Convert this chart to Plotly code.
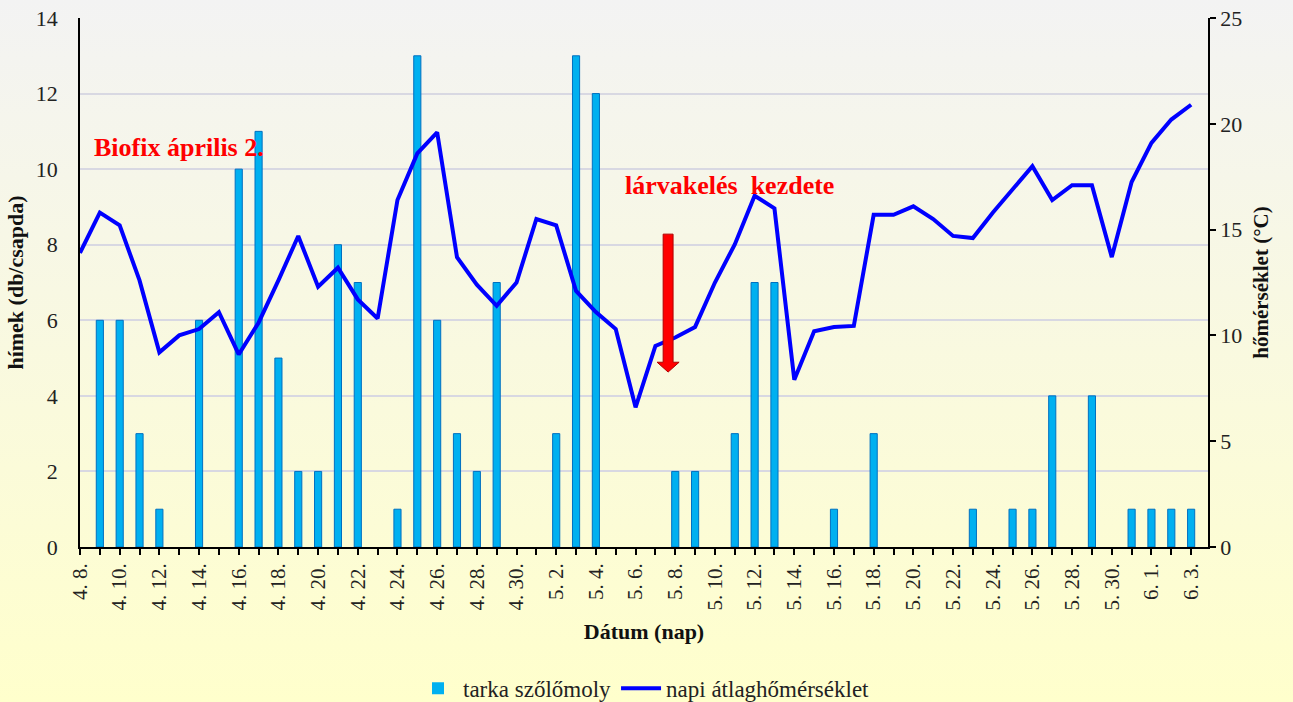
import plotly.graph_objects as go
import urllib.parse

# ---- data ----
dates = ["4. 8.", "4. 9.", "4. 10.", "4. 11.", "4. 12.", "4. 13.", "4. 14.", "4. 15.", "4. 16.", "4. 17.",
         "4. 18.", "4. 19.", "4. 20.", "4. 21.", "4. 22.", "4. 23.", "4. 24.", "4. 25.", "4. 26.", "4. 27.",
         "4. 28.", "4. 29.", "4. 30.", "5. 1.", "5. 2.", "5. 3.", "5. 4.", "5. 5.", "5. 6.", "5. 7.",
         "5. 8.", "5. 9.", "5. 10.", "5. 11.", "5. 12.", "5. 13.", "5. 14.", "5. 15.", "5. 16.", "5. 17.",
         "5. 18.", "5. 19.", "5. 20.", "5. 21.", "5. 22.", "5. 23.", "5. 24.", "5. 25.", "5. 26.", "5. 27.",
         "5. 28.", "5. 29.", "5. 30.", "5. 31.", "6. 1.", "6. 2.", "6. 3."]

moth_counts = [0, 6, 6, 3, 1, 0, 6, 0, 10, 11,
               5, 2, 2, 8, 7, 0, 1, 13, 6, 3,
               2, 7, 0, 0, 3, 13, 12, 0, 0, 0,
               2, 2, 0, 3, 7, 7, 0, 0, 1, 0,
               3, 0, 0, 0, 0, 1, 0, 1, 1, 4,
               0, 4, 0, 1, 1, 1, 1]

mean_temp = [13.9, 15.8, 15.2, 12.6, 9.2, 10.0, 10.3, 11.1, 9.1, 10.6,
             12.6, 14.7, 12.3, 13.2, 11.7, 10.8, 16.4, 18.6, 19.6, 13.7,
             12.4, 11.4, 12.5, 15.5, 15.2, 12.1, 11.1, 10.3, 6.6, 9.5,
             9.9, 10.4, 12.5, 14.3, 16.6, 16.0, 7.9, 10.2, 10.4, 10.45,
             15.7, 15.7, 16.1, 15.5, 14.7, 14.6, 15.8, 16.9, 18.0, 16.4,
             17.1, 17.1, 13.7, 17.25, 19.1, 20.2, 20.9]

idx = list(range(len(dates)))
tick_idx = idx[::2]
tick_labels = [dates[i] for i in tick_idx]

FONT = "Liberation Serif"

fig = go.Figure()
fig.add_trace(go.Bar(
    x=idx, y=moth_counts, name="tarka szőlőmoly", width=0.36,
    marker=dict(color="#00b0f0",
                line=dict(color="#0070c0", width=[1 if v > 0 else 0 for v in moth_counts])),
    yaxis="y"))
fig.add_trace(go.Scatter(
    x=idx, y=mean_temp, name="napi átlaghőmérséklet", mode="lines",
    line=dict(color="#0000ff", width=4), yaxis="y2"))

# gradient background as inline svg
svg = ("<svg xmlns='http://www.w3.org/2000/svg' width='100' height='100' preserveAspectRatio='none'>"
       "<defs><linearGradient id='g' x1='0' y1='0' x2='0' y2='1'>"
       "<stop offset='0' stop-color='#f3f3f3'/><stop offset='1' stop-color='#ffffcc'/>"
       "</linearGradient></defs><rect width='100' height='100' fill='url(#g)'/></svg>")
src = "data:image/svg+xml;charset=utf-8," + urllib.parse.quote(svg)

W, H = 1293, 702
L, R, T, B = 80, 85, 18, 155
pw, ph = W - L - R, H - T - B

fig.add_layout_image(dict(
    source=src, xref="paper", yref="paper",
    x=-L / pw, y=1 + T / ph, sizex=W / pw, sizey=H / ph,
    xanchor="left", yanchor="top", sizing="stretch", layer="below"))

# red arrow (annotation graphic)
ax0, ay_top, ay_head, ay_tip = 29.64, 8.28, 4.89, 4.63
sw, hw = 0.25, 0.555
arrow_path = (f"M {ax0-sw},{ay_top} L {ax0+sw},{ay_top} L {ax0+sw},{ay_head} "
              f"L {ax0+hw},{ay_head} L {ax0},{ay_tip} L {ax0-hw},{ay_head} "
              f"L {ax0-sw},{ay_head} Z")
fig.add_shape(type="path", path=arrow_path, xref="x", yref="y",
              fillcolor="#ff0000", line=dict(color="#b00000", width=1))

fig.add_annotation(x=0.6, y=10.58, xref="x", yref="y", text="<b>Biofix április 2.</b>",
                   showarrow=False, xanchor="left", yanchor="middle",
                   font=dict(family=FONT, size=26, color="#ff0000"))
fig.add_annotation(x=27.37, y=9.58, xref="x", yref="y", text="<b>lárvakelés  kezdete</b>",
                   showarrow=False, xanchor="left", yanchor="middle",
                   font=dict(family=FONT, size=26, color="#ff0000"))

fig.update_layout(
    width=W, height=H,
    margin=dict(l=L, r=R, t=T, b=B, autoexpand=False),
    paper_bgcolor="#fbfbe4", plot_bgcolor="rgba(0,0,0,0)",
    font=dict(family=FONT, size=21, color="#222222"),
    showlegend=True,
    legend=dict(orientation="h", x=0.5, xanchor="center", y=-0.267, yanchor="middle",
                font=dict(family=FONT, size=23, color="#222222"),
                bgcolor="rgba(0,0,0,0)", itemwidth=40, tracegroupgap=0),
    xaxis=dict(
        range=[0, 56.85], tickmode="array", tickvals=tick_idx, ticktext=tick_labels,
        tickangle=-90, ticks="outside", ticklen=6, tickcolor="black", tickwidth=1.5,
        minor=dict(tickmode="array", tickvals=idx, ticks="outside", ticklen=6,
                   tickcolor="black", tickwidth=1.5),
        showline=True, linecolor="black", linewidth=1.5, showgrid=False, zeroline=False,
        automargin=False,
        tickfont=dict(family=FONT, size=21, color="#222222"),
        title=dict(text="<b>Dátum (nap)</b>", standoff=14,
                   font=dict(family=FONT, size=22, color="#111111"))),
    yaxis=dict(
        range=[0, 14], dtick=2, showgrid=True, gridcolor="#d8d8e2", gridwidth=1.5,
        showline=True, linecolor="black", linewidth=1.5, zeroline=False,
        ticks="", ticklabelstandoff=16, automargin=False,
        tickfont=dict(family=FONT, size=22, color="#222222"),
        title=dict(text="<b>hímek (db/csapda)</b>", standoff=6,
                   font=dict(family=FONT, size=22, color="#111111"))),
    yaxis2=dict(
        range=[0, 25], dtick=5, overlaying="y", side="right", anchor="x",
        showgrid=False, showline=True, linecolor="black", linewidth=1.5, zeroline=False,
        ticks="outside", ticklen=6, tickcolor="black", tickwidth=1.5, automargin=False,
        tickfont=dict(family=FONT, size=22, color="#222222"),
        title=dict(text="<b>hőmérséklet (°C)</b>", standoff=12,
                   font=dict(family=FONT, size=21, color="#111111"))),
)

fig.write_html("out.html", config={"displayModeBar": False},
               post_script="document.body.style.margin='0';document.body.style.overflow='hidden';")
